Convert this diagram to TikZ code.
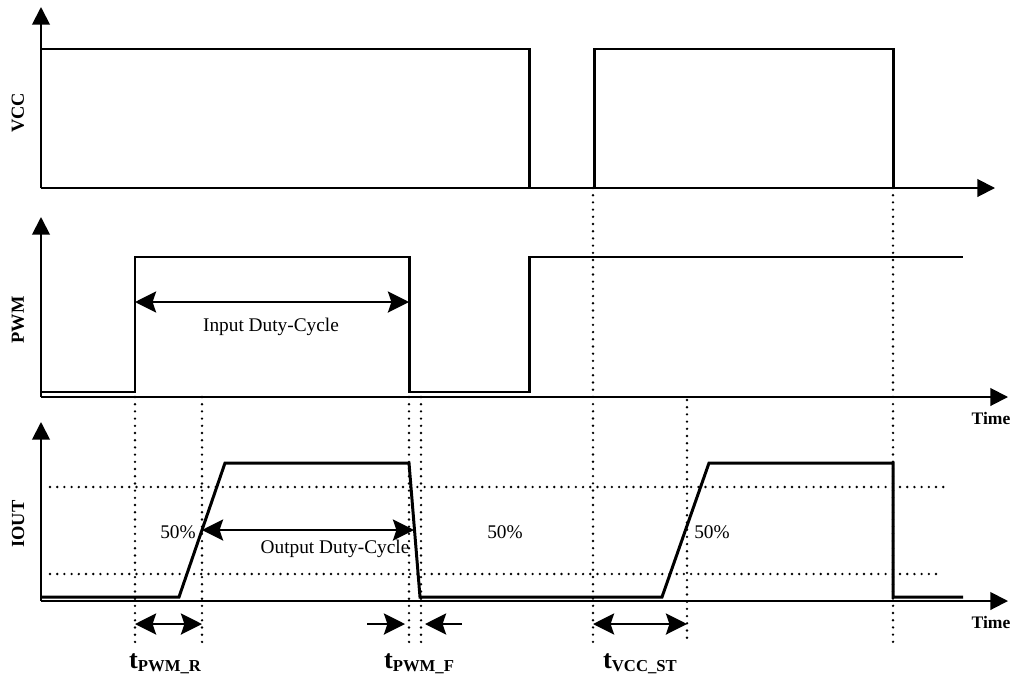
\documentclass[tikz,border=0pt]{standalone}
\usepackage{fontspec}
\setmainfont{Liberation Serif}
\usetikzlibrary{arrows.meta}

\begin{document}
\begin{tikzpicture}[x=0.02cm,y=-0.02cm,
	axis/.style={line width=1.1pt,-{Triangle[length=10pt,width=10pt]}},
	signal/.style={line width=1.7pt,line join=miter},
	guide/.style={line width=1.5pt,dash pattern=on 0pt off 4.1pt,line cap=round},
	span/.style={line width=1.4pt,{Stealth[length=12pt,width=12pt,inset=2pt]}-{Stealth[length=12pt,width=12pt,inset=2pt]}},
	onehead/.style={line width=1.4pt,-{Stealth[length=12pt,width=12pt,inset=2pt]}},
	axlabel/.style={font=\bfseries\fontsize{10.5}{12}\selectfont,rotate=90},
	timelabel/.style={font=\bfseries\fontsize{10}{12}\selectfont},
	note/.style={font=\fontsize{11}{13}\selectfont},
	tlabel/.style={anchor=base,font=\bfseries}]
			%%%%% START %%%%%
			\useasboundingbox (0,0) rectangle (1016,679);
			
			% VCC
			\draw[axis] (41,188) -- (41,7);
			\draw[axis] (41,188) -- (995,188);
			\draw[signal] (41,188) -- (41,49) -- (529,49) -- (529,188) -- (594,188) -- (594,49) -- (893,49) -- (893,188) -- (951,188);
			\node[axlabel] (vcc) at (18,113) {VCC};
			
			% PWM
			\draw[axis] (41,397) -- (41,217);
			\draw[axis] (41,397) -- (1008,397);
			\draw[signal] (41,392) -- (135,392) -- (135,257) -- (409,257) -- (409,392) -- (529,392) -- (529,257) -- (963,257);
			\node[axlabel] (pwm) at (18,320) {PWM};
			\node[timelabel] (time1) at (991,418) {Time};
			\draw[span] (135,302) -- (409,302);
			\node[note] (induty) at (271,327) {Input Duty-Cycle};
			
			% IOUT
			\draw[axis] (41,601) -- (41,422);
			\draw[axis] (41,601) -- (1008,601);
			\draw[guide] (50,487) -- (947,487);
			\draw[guide] (50,574) -- (938,574);
			\draw[signal] (41,597) -- (179,597) -- (225,463) -- (409,463) -- (420,597) -- (662,597) -- (709,463) -- (893,463) -- (893,597) -- (963,597);
			\node[axlabel] (iout) at (18,524) {IOUT};
			\node[timelabel] (time2) at (991,622) {Time};
			\draw[span] (202,530) -- (414,530);
			\node[note] (outduty) at (335,549) {Output Duty-Cycle};
			\node[note] (half1) at (178,532) {50\%};
			\node[note] (half2) at (505,532) {50\%};
			\node[note] (half3) at (712,532) {50\%};
			
			% timing marks
			\draw[guide] (135,397) -- (135,648);
			\draw[guide] (202,397) -- (202,648);
			\draw[guide] (409,397) -- (409,646);
			\draw[guide] (421,397) -- (421,646);
			\draw[guide] (593,188) -- (593,646);
			\draw[guide] (687,400) -- (687,644);
			\draw[guide] (893,188) -- (893,648);
			
			\draw[span] (135,624) -- (202,624);
			\draw[onehead] (367,624) -- (405,624);
			\draw[onehead] (462,624) -- (425,624);
			\draw[span] (593,624) -- (687,624);
			
			\node[tlabel] (tpwmr) at (165,668) {\fontsize{15}{16}\selectfont t\raisebox{-2.2pt}{\fontsize{9.5}{10}\selectfont PWM\_R}};
			\node[tlabel] (tpwmf) at (419,668) {\fontsize{15}{16}\selectfont t\raisebox{-2.2pt}{\fontsize{9.5}{10}\selectfont PWM\_F}};
			\node[tlabel] (tvccst) at (640,668) {\fontsize{15}{16}\selectfont t\raisebox{-2.2pt}{\fontsize{9.5}{10}\selectfont VCC\_ST}};
			
			%%%%% END %%%%%
		\end{tikzpicture}
\end{document}
